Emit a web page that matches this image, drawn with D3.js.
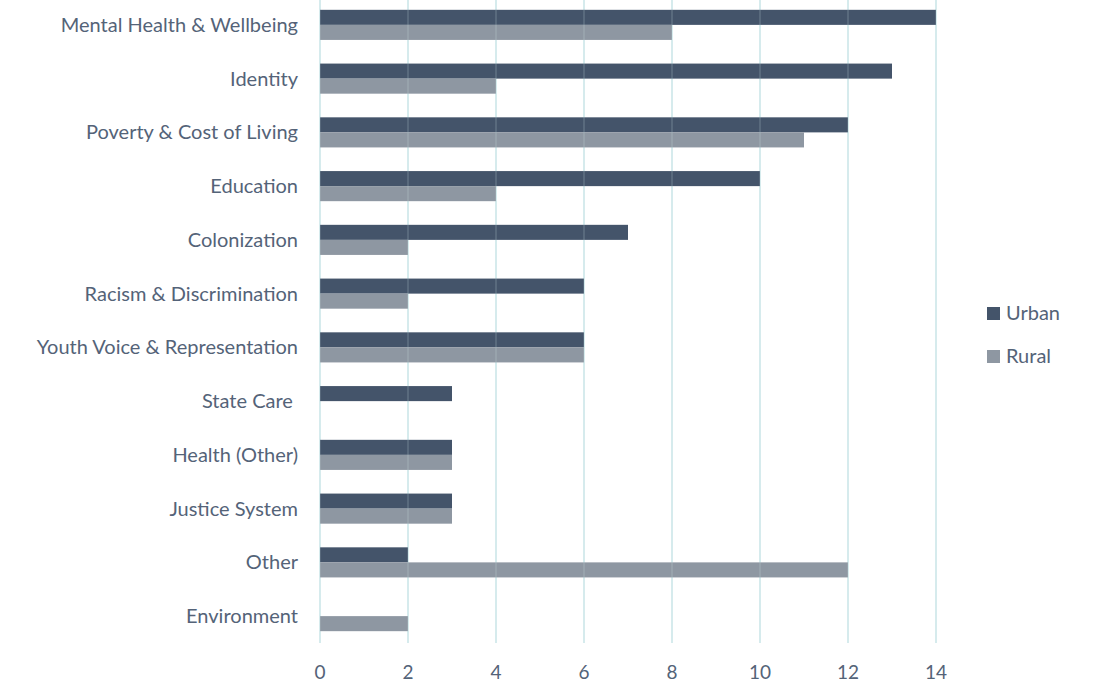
<!DOCTYPE html>
<html><head><meta charset="utf-8">
<script src="https://cdn.jsdelivr.net/npm/d3@7"></script>
<style>body{margin:0;background:#fff;} text{font-family:"Source Sans Pro",Lato,"Open Sans",sans-serif;}</style>
</head><body><svg id="c" width="1094" height="685"></svg>
<script>
const categories = ["Mental Health & Wellbeing","Identity","Poverty & Cost of Living","Education","Colonization","Racism & Discrimination","Youth Voice & Representation","State Care ","Health (Other)","Justice System","Other","Environment"];
const urban = [14,13,12,10,7,6,6,3,3,3,2,0];
const rural = [8,4,11,4,2,2,6,0,3,3,12,2];
const seriesNames = ["Urban","Rural"];
const xTicks = [0,2,4,6,8,10,12,14];
const colors = ["#44546a","#8e97a2"];

const svg = d3.select("#c");
const x = d3.scaleLinear().domain([0,14]).range([320,936]);
const y = d3.scaleBand().domain(categories).range([-2,643]).paddingInner(0.44).paddingOuter(0.22);
const sub = d3.scaleBand().domain(seriesNames).range([0,y.bandwidth()]);

// grid under
svg.append("g").selectAll("line").data(xTicks).join("line")
  .attr("x1",d=>x(d)).attr("x2",d=>x(d)).attr("y1",0).attr("y2",643)
  .attr("stroke","#d6ecee").attr("stroke-width",2);

const data = categories.map((c,i)=>({c, vals:[urban[i],rural[i]]}));
const g = svg.append("g");
data.forEach(d=>{
  d.vals.forEach((v,j)=>{
    if(v<=0) return;
    g.append("rect").attr("x",x(0)).attr("y",y(d.c)+sub(seriesNames[j]))
      .attr("width",x(v)-x(0)).attr("height",sub.bandwidth()).attr("fill",colors[j]);
  });
});
// faint grid over bars
svg.append("g").selectAll("line").data(xTicks).join("line")
  .attr("x1",d=>x(d)).attr("x2",d=>x(d)).attr("y1",0).attr("y2",643)
  .attr("stroke","#d6ecee").attr("stroke-opacity",0.15).attr("stroke-width",2);

// y labels
svg.append("g").selectAll("text").data(categories).join("text")
  .attr("x",298).attr("y",d=>y(d)+y.bandwidth()/2).attr("dy","0.35em")
  .attr("text-anchor","end").attr("font-size",20).attr("fill","#546378")
  .style("white-space","pre").text(d=>d);

// x ticks
svg.append("g").selectAll("text").data(xTicks).join("text")
  .attr("x",d=>x(d)).attr("y",672).attr("dy","0.35em").attr("text-anchor","middle")
  .attr("font-size",19).attr("fill","#546378").text(d=>d);

// legend
const lg = svg.append("g");
seriesNames.forEach((s,i)=>{
  const cy = 313 + i*43;
  lg.append("rect").attr("x",987).attr("y",cy-6).attr("width",13).attr("height",13).attr("fill",colors[i]);
  lg.append("text").attr("x",1006).attr("y",cy).attr("dy","0.35em").attr("font-size",20).attr("fill","#546378").text(s);
});
</script></body></html>
